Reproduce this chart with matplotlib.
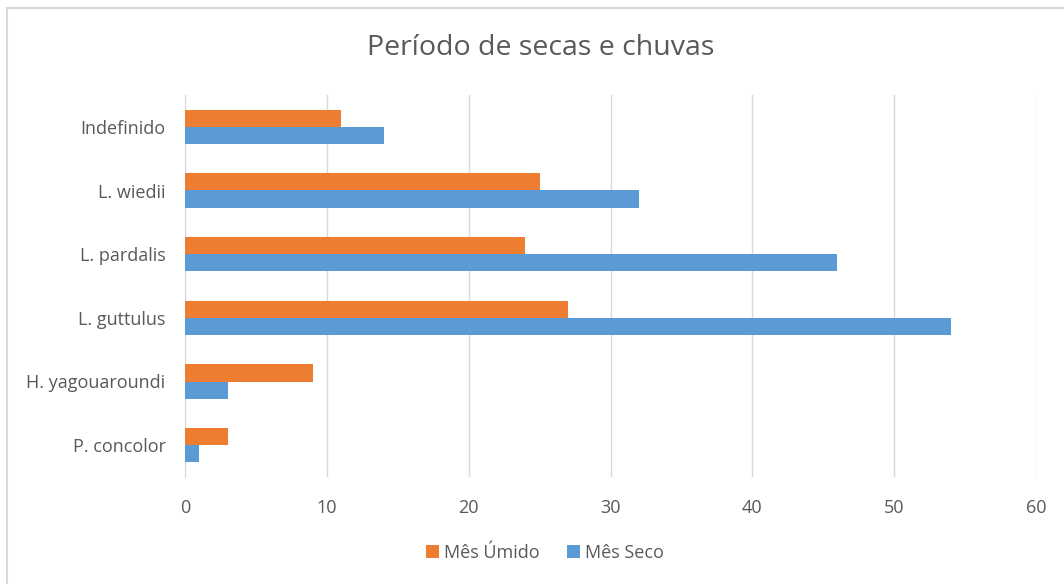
import matplotlib.pyplot as plt
import numpy as np
from matplotlib.patches import Rectangle

plt.rcParams['font.family'] = ['Open Sans', 'DejaVu Sans']

categories = ["P. concolor", "H. yagouaroundi", "L. guttulus",
              "L. pardalis", "L. wiedii", "Indefinido"]
mes_umido = [3, 9, 27, 24, 25, 11]
mes_seco = [1, 3, 54, 46, 32, 14]

orange = "#ED7D31"
blue = "#5B9BD5"
text_gray = "#595959"

fig = plt.figure(figsize=(10.64, 5.84), dpi=100)
ax = fig.add_axes([185 / 1064, 1 - 477 / 584, (1036 - 185) / 1064, (477 - 95) / 584])

y = np.arange(len(categories))
h = 0.27
ax.barh(y + h / 2, mes_umido, height=h, color=orange, label="Mês Úmido", zorder=3)
ax.barh(y - h / 2, mes_seco, height=h, color=blue, label="Mês Seco", zorder=3)

ax.set_xlim(0, 60)
ax.set_ylim(-0.5, len(categories) - 0.5)
ax.set_xticks(range(0, 61, 10))
ax.set_yticks(y)
ax.set_yticklabels(categories)
ax.tick_params(axis="both", length=0, labelsize=13, colors=text_gray)
ax.tick_params(axis="x", pad=16)
ax.tick_params(axis="y", pad=14)
ax.grid(axis="x", color="#D9D9D9", lw=1, zorder=0)
for s in ["top", "right", "bottom"]:
    ax.spines[s].set_visible(False)
ax.spines["left"].set_color("#D9D9D9")

fig.text(541 / 1064, 1 - 48 / 584, "Período de secas e chuvas", ha="center", va="center",
         fontsize=20.5, color=text_gray)

handles, labels = ax.get_legend_handles_labels()
fig.legend(handles, labels, loc="center", bbox_to_anchor=(545 / 1064, 1 - 553 / 584),
           ncol=2, frameon=False, fontsize=13, labelcolor=text_gray,
           handlelength=0.7, handleheight=0.7, handletextpad=0.3, columnspacing=1.5)

fig.patches.append(Rectangle((7 / 1064, -0.1), 1.2, 1 - 8 / 584 + 0.1, transform=fig.transFigure,
                             fill=False, edgecolor="#D9D9D9", lw=1.5))

fig.savefig("out.png", dpi=100)
